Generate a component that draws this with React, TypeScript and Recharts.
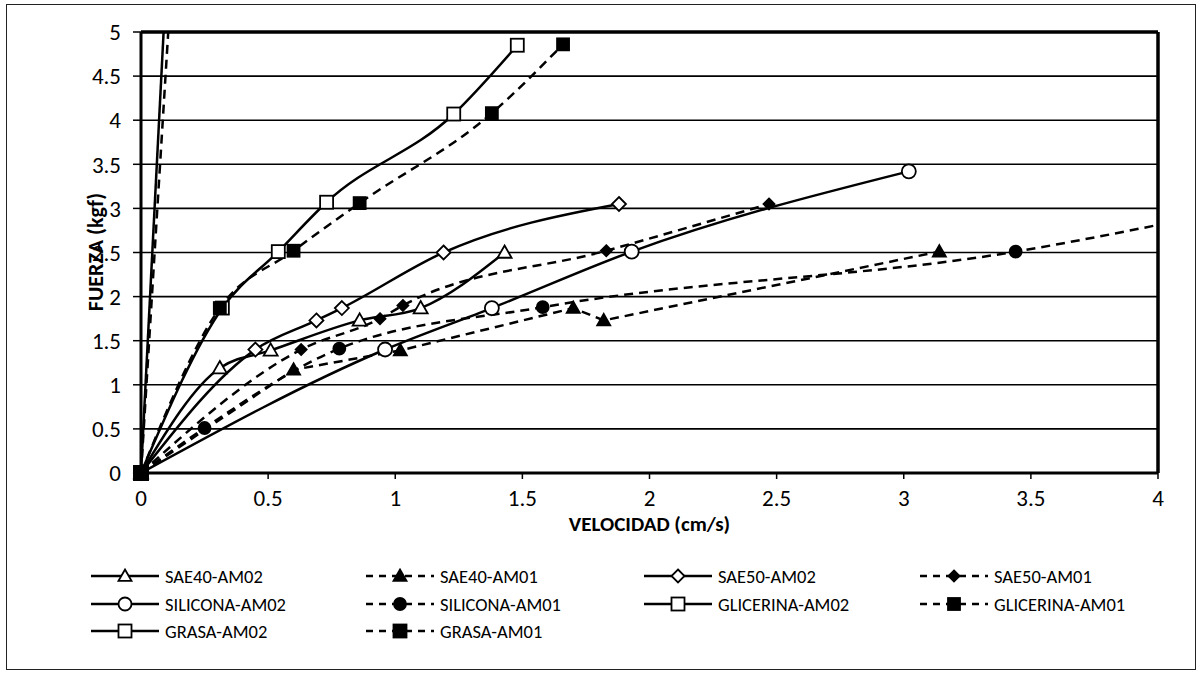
import React from "react";
import {
  LineChart,
  Line,
  XAxis,
  YAxis,
  CartesianGrid,
  ReferenceLine,
  ReferenceDot,
} from "recharts";

// velocidad (cm/s) -> v, fuerza (kgf) -> f
const sae40Am02 = [
  { v: 0, f: 0 },
  { v: 0.31, f: 1.19 },
  { v: 0.51, f: 1.39 },
  { v: 0.86, f: 1.73 },
  { v: 1.1, f: 1.87 },
  { v: 1.43, f: 2.5 },
];
const sae40Am01 = [
  { v: 0, f: 0 },
  { v: 0.6, f: 1.17 },
  { v: 1.02, f: 1.39 },
  { v: 1.7, f: 1.87 },
  { v: 1.82, f: 1.73 },
  { v: 3.14, f: 2.51 },
];
const sae50Am02 = [
  { v: 0, f: 0 },
  { v: 0.45, f: 1.4 },
  { v: 0.69, f: 1.73 },
  { v: 0.79, f: 1.87 },
  { v: 1.19, f: 2.5 },
  { v: 1.88, f: 3.05 },
];
const sae50Am01 = [
  { v: 0, f: 0 },
  { v: 0.63, f: 1.4 },
  { v: 0.94, f: 1.75 },
  { v: 1.03, f: 1.9 },
  { v: 1.83, f: 2.52 },
  { v: 2.47, f: 3.05 },
];
const siliconaAm02 = [
  { v: 0, f: 0 },
  { v: 0.96, f: 1.4 },
  { v: 1.38, f: 1.87 },
  { v: 1.93, f: 2.51 },
  { v: 3.02, f: 3.42 },
];
const siliconaAm01 = [
  { v: 0, f: 0 },
  { v: 0.25, f: 0.51 },
  { v: 0.78, f: 1.41 },
  { v: 1.58, f: 1.88 },
  { v: 3.44, f: 2.51 },
  { v: 4.4, f: 3.05 },
];
const glicerinaAm02 = [
  { v: 0, f: 0 },
  { v: 0.32, f: 1.87 },
  { v: 0.54, f: 2.51 },
  { v: 0.73, f: 3.07 },
  { v: 1.23, f: 4.07 },
  { v: 1.48, f: 4.85 },
];
const glicerinaAm01 = [
  { v: 0, f: 0 },
  { v: 0.31, f: 1.87 },
  { v: 0.6, f: 2.52 },
  { v: 0.86, f: 3.06 },
  { v: 1.38, f: 4.08 },
  { v: 1.66, f: 4.86 },
];
const grasaAm02 = [
  { v: 0, f: 0 },
  { v: 0.128, f: 7.2 },
];
const grasaAm01 = [
  { v: 0, f: 0 },
  { v: 0.15, f: 7 },
];

const xTicks = [0, 0.5, 1, 1.5, 2, 2.5, 3, 3.5, 4];
const yTicks = [0, 0.5, 1, 1.5, 2, 2.5, 3, 3.5, 4, 4.5, 5];

const series = [
  { name: "SAE40-AM02", data: sae40Am02, dashed: false, curve: "monotone", shape: "triangle", filled: false, size: 14 },
  { name: "SAE40-AM01", data: sae40Am01, dashed: true, curve: "linear", shape: "triangle", filled: true, size: 13 },
  { name: "SAE50-AM02", data: sae50Am02, dashed: false, curve: "monotone", shape: "diamond", filled: false, size: 14 },
  { name: "SAE50-AM01", data: sae50Am01, dashed: true, curve: "monotone", shape: "diamond", filled: true, size: 11 },
  { name: "SILICONA-AM02", data: siliconaAm02, dashed: false, curve: "monotone", shape: "circle", filled: false, size: 14 },
  { name: "SILICONA-AM01", data: siliconaAm01, dashed: true, curve: "monotone", shape: "circle", filled: true, size: 12 },
  { name: "GLICERINA-AM02", data: glicerinaAm02, dashed: false, curve: "monotone", shape: "square", filled: false, size: 13 },
  { name: "GLICERINA-AM01", data: glicerinaAm01, dashed: true, curve: "monotone", shape: "square", filled: true, size: 12 },
  { name: "GRASA-AM02", data: grasaAm02, dashed: false, curve: "linear", shape: "square", filled: false, size: 14 },
  { name: "GRASA-AM01", data: grasaAm01, dashed: true, curve: "linear", shape: "square", filled: true, size: 14 },
];

const FONT = "Carlito, Calibri, Lato, sans-serif";
const DASH = "9 6";
const TICK_SIZE = 23;

function Marker({ shape, filled, size, cx, cy }: any) {
  const s = size / 2;
  const common = { fill: filled ? "#000" : "#fff", stroke: "#000", strokeWidth: 1.8 };
  if (shape === "triangle") {
    return (
      <polygon
        points={`${cx},${cy - s} ${cx + s},${cy + s * 0.75} ${cx - s},${cy + s * 0.75}`}
        {...common}
      />
    );
  }
  if (shape === "diamond") {
    return (
      <polygon
        points={`${cx},${cy - s} ${cx + s},${cy} ${cx},${cy + s} ${cx - s},${cy}`}
        {...common}
      />
    );
  }
  if (shape === "circle") {
    return <circle cx={cx} cy={cy} r={s} {...common} />;
  }
  return <rect x={cx - s} y={cy - s} width={size} height={size} {...common} />;
}

// markers inside the plot; the origin ones are drawn unclipped as ReferenceDots
const makeDot = (s: any) => (props: any) => {
  const { cx, cy, payload, index } = props;
  const key = `${s.name}-${index}`;
  if (index === 0 || payload.v > 4 || payload.f > 5 || cx == null || cy == null) {
    return <g key={key} />;
  }
  return (
    <g key={key}>
      <Marker shape={s.shape} filled={s.filled} size={s.size} cx={cx} cy={cy} />
    </g>
  );
};

const XTick = ({ x, y, payload }: any) => (
  <text
    x={x}
    y={y}
    dy="0.72em"
    textAnchor="middle"
    fontFamily={FONT}
    fontSize={TICK_SIZE}
    fill="#000"
  >
    {payload.value}
  </text>
);

const YTick = ({ x, y, payload }: any) => (
  <text
    x={x}
    y={y}
    dy="0.36em"
    textAnchor="end"
    fontFamily={FONT}
    fontSize={TICK_SIZE}
    fill="#000"
  >
    {payload.value}
  </text>
);

const YLabel = () => {
  const cy = 247;
  return (
    <text
      x={88}
      y={cy}
      transform={`rotate(-90, 88, ${cy})`}
      textAnchor="middle"
      dominantBaseline="central"
      fontFamily={FONT}
      fontWeight="bold"
      fontSize={22}
      fill="#000"
    >
      FUERZA (kgf)
    </text>
  );
};

const legendCols = [82, 357, 635, 911];
const legendRows = [571, 599, 626];

function LegendBox() {
  return (
    <>
      {series.map((s, i) => {
        const col = i % 4;
        const row = Math.floor(i / 4);
        return (
          <div
            key={s.name}
            style={{
              position: "absolute",
              left: legendCols[col],
              top: legendRows[row] - 12,
              height: 24,
              display: "flex",
              alignItems: "center",
              fontFamily: FONT,
              fontSize: 18.5,
              whiteSpace: "nowrap",
            }}
          >
            <svg width={72} height={24} style={{ display: "block" }}>
              <line
                x1={2}
                x2={70}
                y1={12}
                y2={12}
                stroke="#000"
                strokeWidth={2.5}
                strokeDasharray={s.dashed ? "7 6" : undefined}
              />
              <Marker shape={s.shape} filled={s.filled} size={Math.min(s.size, 13)} cx={36} cy={12} />
            </svg>
            <span style={{ marginLeft: 4 }}>{s.name}</span>
          </div>
        );
      })}
    </>
  );
}

export default function App() {
  return (
    <div
      style={{
        position: "absolute",
        left: 6,
        top: 4,
        width: 1188,
        height: 664,
        border: "1px solid #222",
        background: "#fff",
      }}
    >
      <LineChart
        width={1188}
        height={664}
        margin={{ top: 27, right: 37, left: 0, bottom: 136 }}
      >
        <CartesianGrid vertical={false} stroke="#000" strokeWidth={1.6} />
        <XAxis
          type="number"
          dataKey="v"
          domain={[0, 4]}
          ticks={xTicks}
          allowDataOverflow
          height={60}
          tickSize={6}
          tickMargin={10}
          axisLine={{ stroke: "#000", strokeWidth: 3 }}
          tickLine={{ stroke: "#000", strokeWidth: 1.5 }}
          tick={<XTick />}
          label={{
            value: "VELOCIDAD (cm/s)",
            position: "insideBottom",
            offset: 2,
            fill: "#000",
            fontSize: 21,
            fontWeight: "bold",
            fontFamily: FONT,
          }}
        />
        <YAxis
          type="number"
          dataKey="f"
          domain={[0, 5]}
          ticks={yTicks}
          allowDataOverflow
          width={134}
          tickSize={8}
          tickMargin={12}
          axisLine={{ stroke: "#000", strokeWidth: 3 }}
          tickLine={{ stroke: "#000", strokeWidth: 1.5 }}
          tick={<YTick />}
          label={<YLabel />}
        />
        <ReferenceLine y={5} stroke="#000" strokeWidth={3.5} />
        <ReferenceLine x={4} stroke="#000" strokeWidth={3.5} />
        {series.map((s) => (
          <Line
            key={s.name}
            name={s.name}
            data={s.data}
            dataKey="f"
            type={s.curve as any}
            stroke="#000"
            strokeWidth={2.5}
            strokeDasharray={s.dashed ? DASH : undefined}
            dot={makeDot(s)}
            activeDot={false}
            isAnimationActive={false}
          />
        ))}
        {series.map((s) => (
          <ReferenceDot
            key={`origin-${s.name}`}
            x={s.data[0].v}
            y={s.data[0].f}
            ifOverflow="visible"
            shape={(p: any) => (
              <Marker shape={s.shape} filled={s.filled} size={s.size} cx={p.cx} cy={p.cy} />
            )}
          />
        ))}
      </LineChart>
      <LegendBox />
    </div>
  );
}
